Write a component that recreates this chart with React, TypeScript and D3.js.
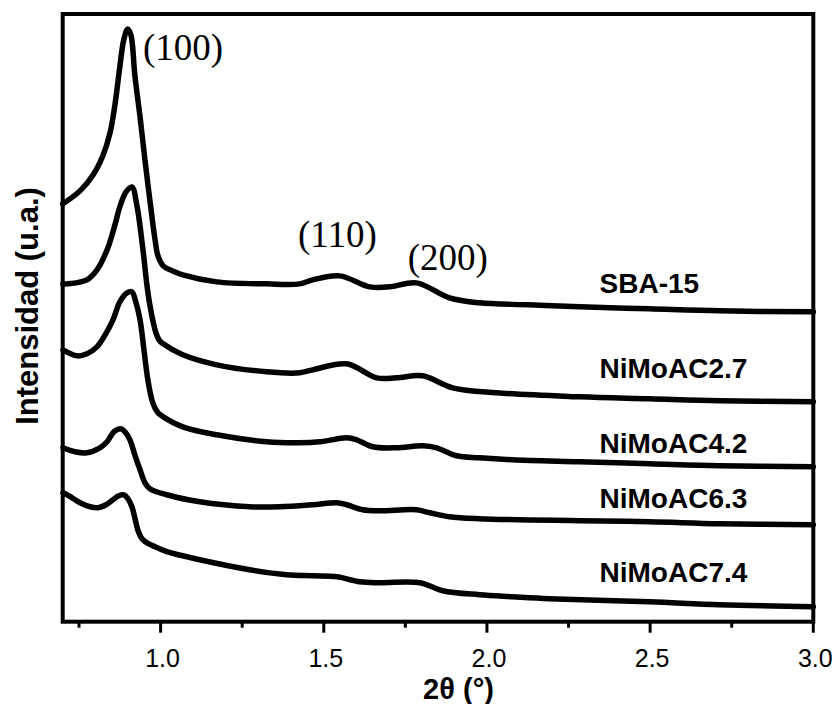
import React, { useEffect } from "react";
import * as d3 from "d3";

// 2θ (degrees) / intensity (a.u.) pairs
const sba15: [number, number][] = [
  [0.7, 418], [0.722, 423], [0.753, 431], [0.793, 447], [0.824, 467], [0.845, 489], [0.86, 517],
  [0.875, 555], [0.887, 582], [0.899, 593], [0.909, 587], [0.921, 547], [0.937, 505], [0.952, 462],
  [0.967, 422], [0.983, 382], [0.992, 366], [1.008, 356], [1.044, 350], [1.068, 347], [1.172, 340],
  [1.325, 338], [1.426, 338], [1.466, 342], [1.549, 346], [1.641, 335], [1.702, 335], [1.784, 339],
  [1.885, 324], [1.977, 319], [2.13, 317], [2.284, 315], [2.498, 313], [2.712, 311], [3.0, 310],
];
const nimo27: [number, number][] = [
  [0.7, 338], [0.713, 338], [0.774, 342], [0.805, 352], [0.836, 372], [0.86, 397], [0.875, 415],
  [0.894, 430], [0.912, 435], [0.927, 417], [0.946, 372], [0.958, 337], [0.967, 317], [0.983, 292],
  [0.995, 282], [1.008, 278], [1.068, 267], [1.172, 257], [1.325, 250], [1.426, 249], [1.466, 252],
  [1.57, 258], [1.662, 244], [1.723, 244], [1.803, 246], [1.895, 234], [2.029, 229], [2.284, 225],
  [2.498, 223], [2.712, 221], [3.0, 220],
];
const nimo42: [number, number][] = [
  [0.701, 272], [0.744, 266], [0.774, 268], [0.805, 275], [0.83, 287], [0.854, 302], [0.875, 320],
  [0.897, 329], [0.912, 330], [0.924, 320], [0.937, 302], [0.949, 272], [0.961, 242], [0.976, 219],
  [0.992, 209], [1.008, 205], [1.068, 195], [1.172, 187], [1.325, 180], [1.426, 179], [1.488, 180],
  [1.57, 184], [1.601, 182], [1.65, 175], [1.723, 174], [1.803, 176], [1.846, 174], [1.907, 166],
  [1.977, 164], [2.078, 162], [2.284, 160], [2.498, 158], [2.712, 156], [3.0, 155],
];
const nimo63: [number, number][] = [
  [0.701, 174], [0.738, 170], [0.774, 169], [0.814, 174], [0.836, 180], [0.854, 189], [0.866, 192],
  [0.878, 193], [0.891, 190], [0.906, 182], [0.921, 167], [0.937, 152], [0.952, 139], [0.967, 133],
  [1.019, 127], [1.12, 120], [1.273, 115], [1.365, 115], [1.466, 117], [1.54, 119], [1.57, 117],
  [1.619, 112], [1.671, 111], [1.784, 112], [1.825, 109], [1.885, 105], [1.977, 103], [2.284, 101],
  [2.498, 100], [2.712, 98], [3.0, 97],
];
const nimo74: [number, number][] = [
  [0.701, 129], [0.729, 124], [0.753, 119], [0.784, 115], [0.808, 114], [0.833, 117], [0.854, 122],
  [0.872, 126], [0.888, 127], [0.9, 123], [0.912, 115], [0.921, 104], [0.93, 92], [0.943, 83],
  [0.958, 79], [0.983, 75], [1.019, 70], [1.12, 62], [1.273, 52], [1.387, 47], [1.466, 46],
  [1.54, 45], [1.61, 40], [1.671, 39], [1.794, 39], [1.864, 31], [1.977, 27], [2.078, 25],
  [2.191, 23], [2.498, 20], [2.712, 17], [3.0, 15],
];

const seriesNames = ["SBA-15", "NiMoAC2.7", "NiMoAC4.2", "NiMoAC6.3", "NiMoAC7.4"];
const seriesData = [sba15, nimo27, nimo42, nimo63, nimo74];
// label anchor (2θ, intensity) for each series name
const labelX = [2.345, 2.345, 2.345, 2.345, 2.345];
const labelY = [329, 244, 169, 114, 40];

const peakLabels = ["(100)", "(110)", "(200)"];
const peakX = [0.946, 1.421, 1.757];
const peakY = [562, 375, 352];

const majorTicks = [1.0, 1.5, 2.0, 2.5, 3.0];
const majorTickLabels = ["1.0", "1.5", "2.0", "2.5", "3.0"];
const minorTicks = [0.75, 1.25, 1.75, 2.25, 2.75];

const xDomain: [number, number] = [0.7, 3.0];
const yDomain: [number, number] = [0, 608];

export default function App() {
  useEffect(() => {
    document.body.style.margin = "0";
  }, []);

  const W = 839;
  const H = 704;
  const left = 62.7;
  const right = 813.3;
  const top = 14;
  const bottom = 621.7;

  const x = d3.scaleLinear().domain(xDomain).range([left, right]);
  const y = d3.scaleLinear().domain(yDomain).range([bottom, top]);

  const line = d3
    .line<[number, number]>()
    .x((d) => x(d[0]))
    .y((d) => y(d[1]))
    .curve(d3.curveCatmullRom.alpha(0.5));

  return (
    <svg
      width={W}
      height={H}
      viewBox={`0 0 ${W} ${H}`}
      style={{ position: "absolute", left: 0, top: 0, display: "block", background: "#fff" }}
    >
      <rect x={0} y={0} width={W} height={H} fill="#fff" />
      {/* curves */}
      <g fill="none" stroke="#000" strokeWidth={5.5} strokeLinejoin="round" strokeLinecap="round">
        {seriesData.map((d, i) => (
          <path key={i} d={line(d) || ""} />
        ))}
      </g>
      {/* frame */}
      <rect
        x={left}
        y={top}
        width={right - left}
        height={bottom - top}
        fill="none"
        stroke="#000"
        strokeWidth={4}
      />
      {/* ticks */}
      <g stroke="#000" strokeWidth={3}>
        {majorTicks.map((t, i) => (
          <line key={"M" + i} x1={x(t)} x2={x(t)} y1={bottom} y2={bottom + 11} />
        ))}
        {minorTicks.map((t, i) => (
          <line key={"m" + i} x1={x(t)} x2={x(t)} y1={bottom} y2={bottom + 6} />
        ))}
      </g>
      <g fontFamily="'Liberation Sans', Arial, sans-serif" fontSize={25} textAnchor="middle" fill="#000">
        {majorTicks.map((t, i) => (
          <text key={i} x={x(t) + 2} y={667}>
            {majorTickLabels[i]}
          </text>
        ))}
      </g>
      {/* axis titles */}
      <text
        x={458.5}
        y={699}
        textAnchor="middle"
        fontFamily="'Liberation Sans', Arial, sans-serif"
        fontWeight="bold"
        fontSize={29}
      >
        2θ (°)
      </text>
      <text
        transform="translate(38,306) rotate(-90)"
        textAnchor="middle"
        fontFamily="'Liberation Sans', Arial, sans-serif"
        fontWeight="bold"
        fontSize={31}
      >
        Intensidad (u.a.)
      </text>
      {/* series labels */}
      <g fontFamily="'Liberation Sans', Arial, sans-serif" fontWeight="bold" fontSize={28}>
        {seriesNames.map((n, i) => (
          <text key={n} x={x(labelX[i])} y={y(labelY[i])}>
            {n}
          </text>
        ))}
      </g>
      {/* peak labels */}
      <g fontFamily="'Liberation Serif', 'Times New Roman', serif" fontSize={37}>
        {peakLabels.map((p, i) => (
          <text key={p} x={x(peakX[i])} y={y(peakY[i])}>
            {p}
          </text>
        ))}
      </g>
    </svg>
  );
}
